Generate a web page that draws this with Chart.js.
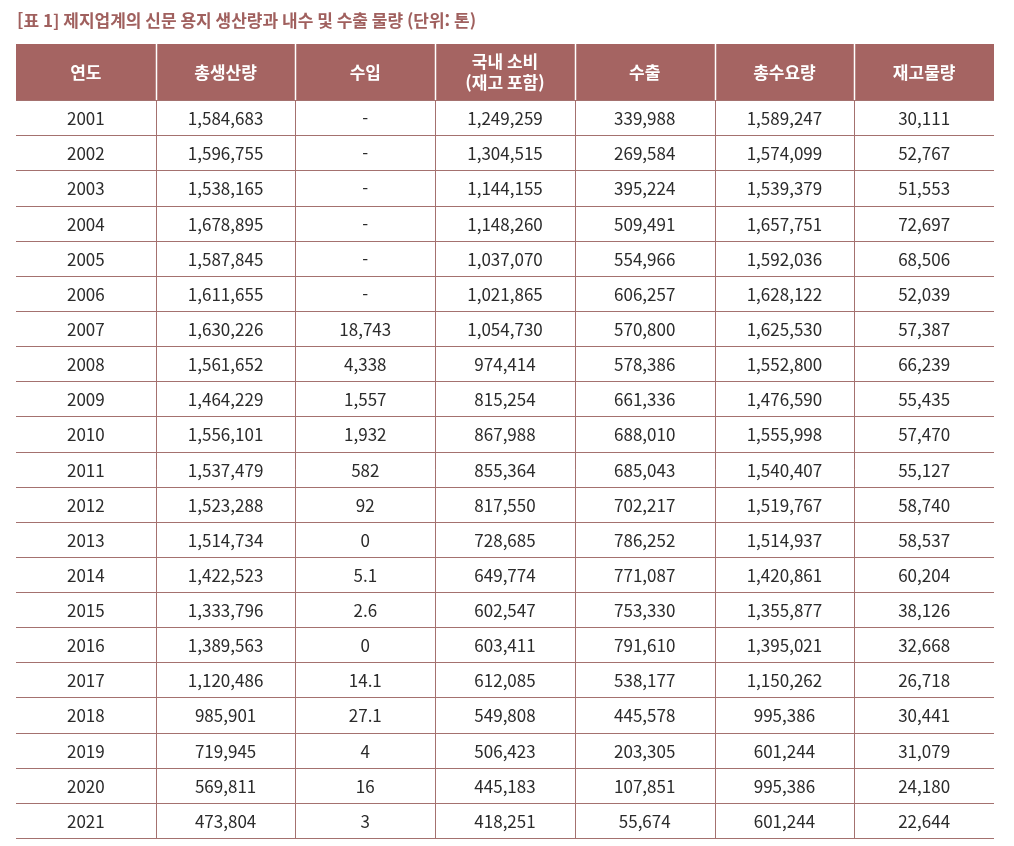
<!DOCTYPE html>
<html lang="ko">
<head>
<meta charset="utf-8">
<title>제지업계의 신문 용지 생산량과 내수 및 수출 물량</title>
<script src="https://cdn.jsdelivr.net/npm/chart.js@4/dist/chart.umd.min.js"></script>
<style>
  html, body { margin: 0; padding: 0; background: #fff; }
  #wrap { width: 1014px; height: 846px; position: relative; }
</style>
</head>
<body>
<div id="wrap"><canvas id="tableChart"></canvas></div>
<script>
  const title = "[표 1] 제지업계의 신문 용지 생산량과 내수 및 수출 물량 (단위: 톤)";

  const headers = [["연도"], ["총생산량"], ["수입"], ["국내 소비", "(재고 포함)"], ["수출"], ["총수요량"], ["재고물량"]];

  const years = [2001, 2002, 2003, 2004, 2005, 2006, 2007, 2008, 2009, 2010,
    2011, 2012, 2013, 2014, 2015, 2016, 2017, 2018, 2019, 2020, 2021];

  const production = [1584683, 1596755, 1538165, 1678895, 1587845, 1611655, 1630226, 1561652, 1464229, 1556101,
    1537479, 1523288, 1514734, 1422523, 1333796, 1389563, 1120486, 985901, 719945, 569811, 473804];

  // null = "-" in the source table
  const imports = [null, null, null, null, null, null, 18743, 4338, 1557, 1932,
    582, 92, 0, 5.1, 2.6, 0, 14.1, 27.1, 4, 16, 3];

  const domestic = [1249259, 1304515, 1144155, 1148260, 1037070, 1021865, 1054730, 974414, 815254, 867988,
    855364, 817550, 728685, 649774, 602547, 603411, 612085, 549808, 506423, 445183, 418251];

  const exports = [339988, 269584, 395224, 509491, 554966, 606257, 570800, 578386, 661336, 688010,
    685043, 702217, 786252, 771087, 753330, 791610, 538177, 445578, 203305, 107851, 55674];

  const totalDemand = [1589247, 1574099, 1539379, 1657751, 1592036, 1628122, 1625530, 1552800, 1476590, 1555998,
    1540407, 1519767, 1514937, 1420861, 1355877, 1395021, 1150262, 995386, 601244, 995386, 601244];

  const inventory = [30111, 52767, 51553, 72697, 68506, 52039, 57387, 66239, 55435, 57470,
    55127, 58740, 58537, 60204, 38126, 32668, 26718, 30441, 31079, 24180, 22644];

  const columns = [years, production, imports, domestic, exports, totalDemand, inventory];

  // header row is 1.6 data rows tall
  const HEADER_H = 1.6;
  const FONT = "'Noto Sans CJK KR', 'Noto Sans', sans-serif";

  function fmt(v, col) {
    if (v === null) return "-";
    if (col === 0) return String(v);
    return v.toLocaleString("en-US", { maximumFractionDigits: 1 });
  }

  const tablePlugin = {
    id: "tablePlugin",
    afterDraw(chart) {
      const { ctx, scales: { x, y } } = chart;
      const nCols = columns.length;
      const left = x.getPixelForValue(0), right = x.getPixelForValue(nCols);
      const top = y.getPixelForValue(0), hBottom = y.getPixelForValue(HEADER_H);
      const bottom = y.getPixelForValue(HEADER_H + years.length);

      ctx.save();

      // title
      ctx.fillStyle = "#a0605e";
      ctx.font = "bold 17px " + FONT;
      ctx.textAlign = "left";
      ctx.textBaseline = "middle";
      ctx.fillText(title, left + 1, 21);

      // header background
      ctx.fillStyle = "#a56462";
      ctx.fillRect(left, top, right - left, hBottom - top);

      // header separators
      ctx.strokeStyle = "#ffffff";
      ctx.lineWidth = 1.5;
      for (let c = 1; c < nCols; c++) {
        const px = Math.round(x.getPixelForValue(c)) + 0.5;
        ctx.beginPath(); ctx.moveTo(px, top); ctx.lineTo(px, hBottom); ctx.stroke();
      }

      // header text
      ctx.fillStyle = "#ffffff";
      ctx.font = "bold 17px " + FONT;
      ctx.textAlign = "center";
      headers.forEach((lines, c) => {
        const cx = x.getPixelForValue(c + 0.5);
        const cy = y.getPixelForValue(HEADER_H / 2);
        const lh = 21;
        lines.forEach((t, i) => {
          ctx.fillText(t, cx, cy + (i - (lines.length - 1) / 2) * lh);
        });
      });

      // body grid
      ctx.strokeStyle = "#a4716f";
      ctx.lineWidth = 1;
      for (let r = 0; r <= years.length; r++) {
        const py = Math.round(y.getPixelForValue(HEADER_H + r)) + 0.5;
        ctx.beginPath(); ctx.moveTo(left, py); ctx.lineTo(right, py); ctx.stroke();
      }
      for (let c = 1; c < nCols; c++) {
        const px = Math.round(x.getPixelForValue(c)) + 0.5;
        ctx.beginPath(); ctx.moveTo(px, hBottom); ctx.lineTo(px, bottom); ctx.stroke();
      }

      // body text
      ctx.fillStyle = "#2b2b2b";
      ctx.font = "17px " + FONT;
      columns.forEach((col, c) => {
        const cx = x.getPixelForValue(c + 0.5);
        col.forEach((v, r) => {
          const cy = y.getPixelForValue(HEADER_H + r + 0.5);
          ctx.fillText(fmt(v, c), cx, cy + 1);
        });
      });

      ctx.restore();
    }
  };

  const canvas = document.getElementById("tableChart");
  const ctx = canvas.getContext("2d");

  const myChart = new Chart(ctx, {
    type: "scatter",
    data: { datasets: [{ data: [], pointRadius: 0 }] },
    options: {
      responsive: true,
      maintainAspectRatio: false,
      animation: false,
      events: [],
      layout: {
        padding: { left: 16, right: 20, top: 44, bottom: 8 }
      },
      plugins: {
        legend: { display: false },
        tooltip: { enabled: false }
      },
      scales: {
        x: { type: "linear", min: 0, max: columns.length, display: false },
        y: { type: "linear", min: 0, max: HEADER_H + years.length, reverse: true, display: false }
      }
    },
    plugins: [tablePlugin]
  });
</script>
</body>
</html>
